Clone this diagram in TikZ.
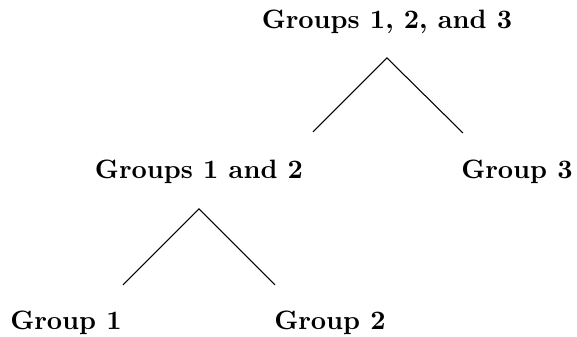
\documentclass[tikz,border=0pt]{standalone}
\begin{document}
\begin{tikzpicture}[x=0.376pt,y=-0.376pt,
  lbl/.style={font=\bfseries, inner sep=0pt},
  edge/.style={draw=black, line width=0.4pt}]
\useasboundingbox (0,0) rectangle (577,337);
\node[lbl] (g123) at (387,22) {Groups 1, 2, and 3};
\node[lbl] (g12) at (199,172) {Groups 1 and 2};
\node[lbl] (g3) at (517,172) {Group 3};
\node[lbl] (g1) at (66,323) {Group 1};
\node[lbl] (g2) at (330,323) {Group 2};
\coordinate (t1) at (387,58);
\coordinate (l1) at (313,132);
\coordinate (r1) at (463,133);
\coordinate (t2) at (199,209);
\coordinate (l2) at (123,285);
\coordinate (r2) at (275,285);
\draw[edge] (l1) -- (t1) -- (r1);
\draw[edge] (l2) -- (t2) -- (r2);
\end{tikzpicture}
\end{document}
